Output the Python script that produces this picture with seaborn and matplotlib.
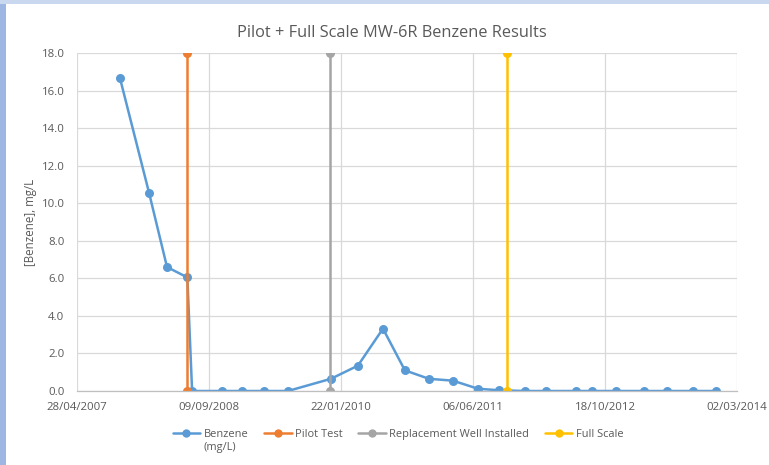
import matplotlib
matplotlib.use("Agg")
import matplotlib.pyplot as plt
import matplotlib.dates as mdates
from matplotlib.patches import Rectangle
from matplotlib.lines import Line2D
import seaborn as sns
import pandas as pd

# ---- data ----
benzene_dates = ["2007-10-08", "2008-01-26", "2008-04-03", "2008-06-19", "2008-07-07",
                 "2008-10-28", "2009-01-12", "2009-04-05", "2009-07-05", "2009-12-15",
                 "2010-03-27", "2010-06-30", "2010-09-21", "2010-12-21", "2011-03-22",
                 "2011-06-25", "2011-09-12", "2011-12-20", "2012-03-09", "2012-06-30",
                 "2012-08-30", "2012-11-29", "2013-03-15", "2013-06-10", "2013-09-16",
                 "2013-12-12"]
benzene_values = [16.65, 10.55, 6.6, 6.05, 0.0,
                  0.0, 0.0, 0.0, 0.0, 0.65,
                  1.35, 3.32, 1.1, 0.65, 0.55,
                  0.12, 0.04, 0.0, 0.0, 0.0,
                  0.0, 0.0, 0.0, 0.0, 0.0,
                  0.0]

pilot_dates = ["2008-06-18", "2008-06-18"]
pilot_values = [0.0, 18.0]
replacement_dates = ["2009-12-12", "2009-12-12"]
replacement_values = [0.0, 18.0]
fullscale_dates = ["2011-10-13", "2011-10-13"]
fullscale_values = [0.0, 18.0]

series_names = ["Benzene\n(mg/L)", "Pilot Test", "Replacement Well Installed", "Full Scale"]
series_colors = ["#5B9BD5", "#ED7D31", "#A5A5A5", "#FFC000"]

x_tick_labels = ["28/04/2007", "09/09/2008", "22/01/2010", "06/06/2011", "18/10/2012", "02/03/2014"]
y_ticks = [0, 2, 4, 6, 8, 10, 12, 14, 16, 18]

title = "Pilot + Full Scale MW-6R Benzene Results"
y_label = "[Benzene], mg/L"

# ---- build table ----
frames = []
for name, d, v in zip(series_names,
                      [benzene_dates, pilot_dates, replacement_dates, fullscale_dates],
                      [benzene_values, pilot_values, replacement_values, fullscale_values]):
    frames.append(pd.DataFrame({"date": pd.to_datetime(d), "value": v, "series": name}))
df = pd.concat(frames, ignore_index=True)

sns.set_theme(style="white")
plt.rcParams['font.family'] = ['Open Sans', 'DejaVu Sans']
GREY = "#595959"

fig = plt.figure(figsize=(7.69, 4.65), dpi=100)
ax = fig.add_axes([77/769, 1 - 391/465, (737-77)/769, (391-53)/465])

# slide background strips
fig.patches.append(Rectangle((0, 0), 6/769, 1, transform=fig.transFigure,
                             facecolor="#9db6e2", edgecolor="none", zorder=0))
fig.patches.append(Rectangle((0, 1 - 4/465), 1, 4/465, transform=fig.transFigure,
                             facecolor="#c9d8ef", edgecolor="none", zorder=0))

sns.lineplot(data=df, x="date", y="value", hue="series", hue_order=series_names,
             palette=series_colors, marker="o", markersize=6.5, markeredgewidth=0,
             linewidth=1.8, sort=False, estimator=None, units="series", ax=ax, legend=False)

tick_dates = pd.to_datetime(x_tick_labels, format="%d/%m/%Y")
ax.set_xlim(mdates.date2num(tick_dates[0]), mdates.date2num(tick_dates[-1]))
ax.set_xticks(mdates.date2num(tick_dates))
ax.set_xticklabels(x_tick_labels)
ax.set_ylim(0, 18)
ax.set_yticks(y_ticks)
ax.set_yticklabels([f"{t:.1f}" for t in y_ticks])

ax.grid(True, color="#D9D9D9", linewidth=0.9)
ax.set_axisbelow(True)
for s in ["top", "right", "left"]:
    ax.spines[s].set_visible(False)
ax.spines["bottom"].set_color("#BFBFBF")
ax.spines["bottom"].set_linewidth(0.9)
ax.tick_params(axis="both", colors=GREY, labelsize=8.2, length=0)
ax.tick_params(axis="y", pad=9)
ax.tick_params(axis="x", pad=8)
ax.set_xlabel("")
ax.set_ylabel(y_label, color=GREY, fontsize=8.3, labelpad=3)

fig.text(392/769, 1 - 33/465, title, color=GREY, fontsize=11.8, ha="center", va="center")

# legend: first line of each label next to its handle, the rest below
first_lines = [n.split("\n")[0] for n in series_names]
handles = [Line2D([0], [0], color=c, marker="o", markersize=6, markeredgewidth=0, linewidth=1.8)
           for c in series_colors]
leg = fig.legend(handles, first_lines, loc="center", bbox_to_anchor=(398/769, 1 - 434/465),
                 ncol=4, frameon=False, fontsize=7.9, handlelength=2.5, handletextpad=0.3,
                 columnspacing=1.45)
for t in leg.get_texts():
    t.set_color(GREY)

fig.canvas.draw()
inv = fig.transFigure.inverted()
for t, full in zip(leg.get_texts(), series_names):
    rest = full.split("\n")[1:]
    if rest:
        bb = t.get_window_extent()
        x0, y0 = inv.transform((bb.x0, bb.y0))
        fig.text(x0, y0 - 2/465, "\n".join(rest), color=GREY, fontsize=7.9,
                 ha="left", va="top")

fig.savefig("out.png", dpi=100, facecolor="white")
